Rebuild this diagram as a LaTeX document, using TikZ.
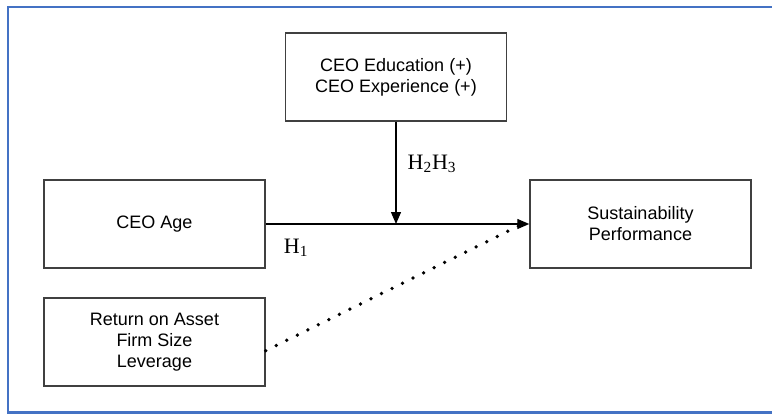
\documentclass[tikz,border=0pt]{standalone}
\usepackage{fontspec}
\setmainfont{Liberation Sans}
\newfontfamily\hypfont{Liberation Serif}
\usepackage{tikz}
\usetikzlibrary{arrows.meta}
\definecolor{frameblue}{HTML}{4472C4}
\definecolor{boxgray}{HTML}{404040}
\tikzstyle{varbox} = [draw=boxgray, line width=1.1pt, minimum width=165.75pt, minimum height=66pt, align=center, font=\fontsize{13.5}{15.75}\selectfont]
\tikzstyle{arrow} = [line width=1pt, -{Triangle[length=9pt,width=7.5pt]}]
\tikzset{hyp/.style={font=\hypfont\fontsize{16.5}{19}\selectfont}}

\begin{document}
\begin{tikzpicture}[x=0.75pt,y=-0.75pt]
\useasboundingbox (0,0) rectangle (772,414);
\draw[frameblue, line width=1.6pt] (8,7) rectangle (780,412.5);

\node[varbox] (edu) at (396,77) {CEO Education (+)\\CEO Experience (+)};
\node[varbox] (age) at (154.5,224) {CEO Age};
\node[varbox] (ctrl) at (154.5,342) {Return on Asset\\Firm Size\\Leverage};
\node[varbox] (sust) at (640.5,224) {Sustainability\\Performance};

% main path and moderation
\draw[arrow] (age.east) -- (sust.west);
\coordinate (mid) at (edu.south |- age.east);
\draw[arrow] (edu.south) -- (mid);

% controls
\draw[line width=2.8pt, line cap=round, dash pattern=on 0pt off 8.8pt] ([yshift=-6.5pt]ctrl.east) -- ([xshift=-5pt]sust.west);

\node[hyp] (h23) at (432,164) {H\textsubscript{2}H\textsubscript{3}};
\node[hyp] (h1) at (296,248) {H\textsubscript{1}};
\end{tikzpicture}
\end{document}
